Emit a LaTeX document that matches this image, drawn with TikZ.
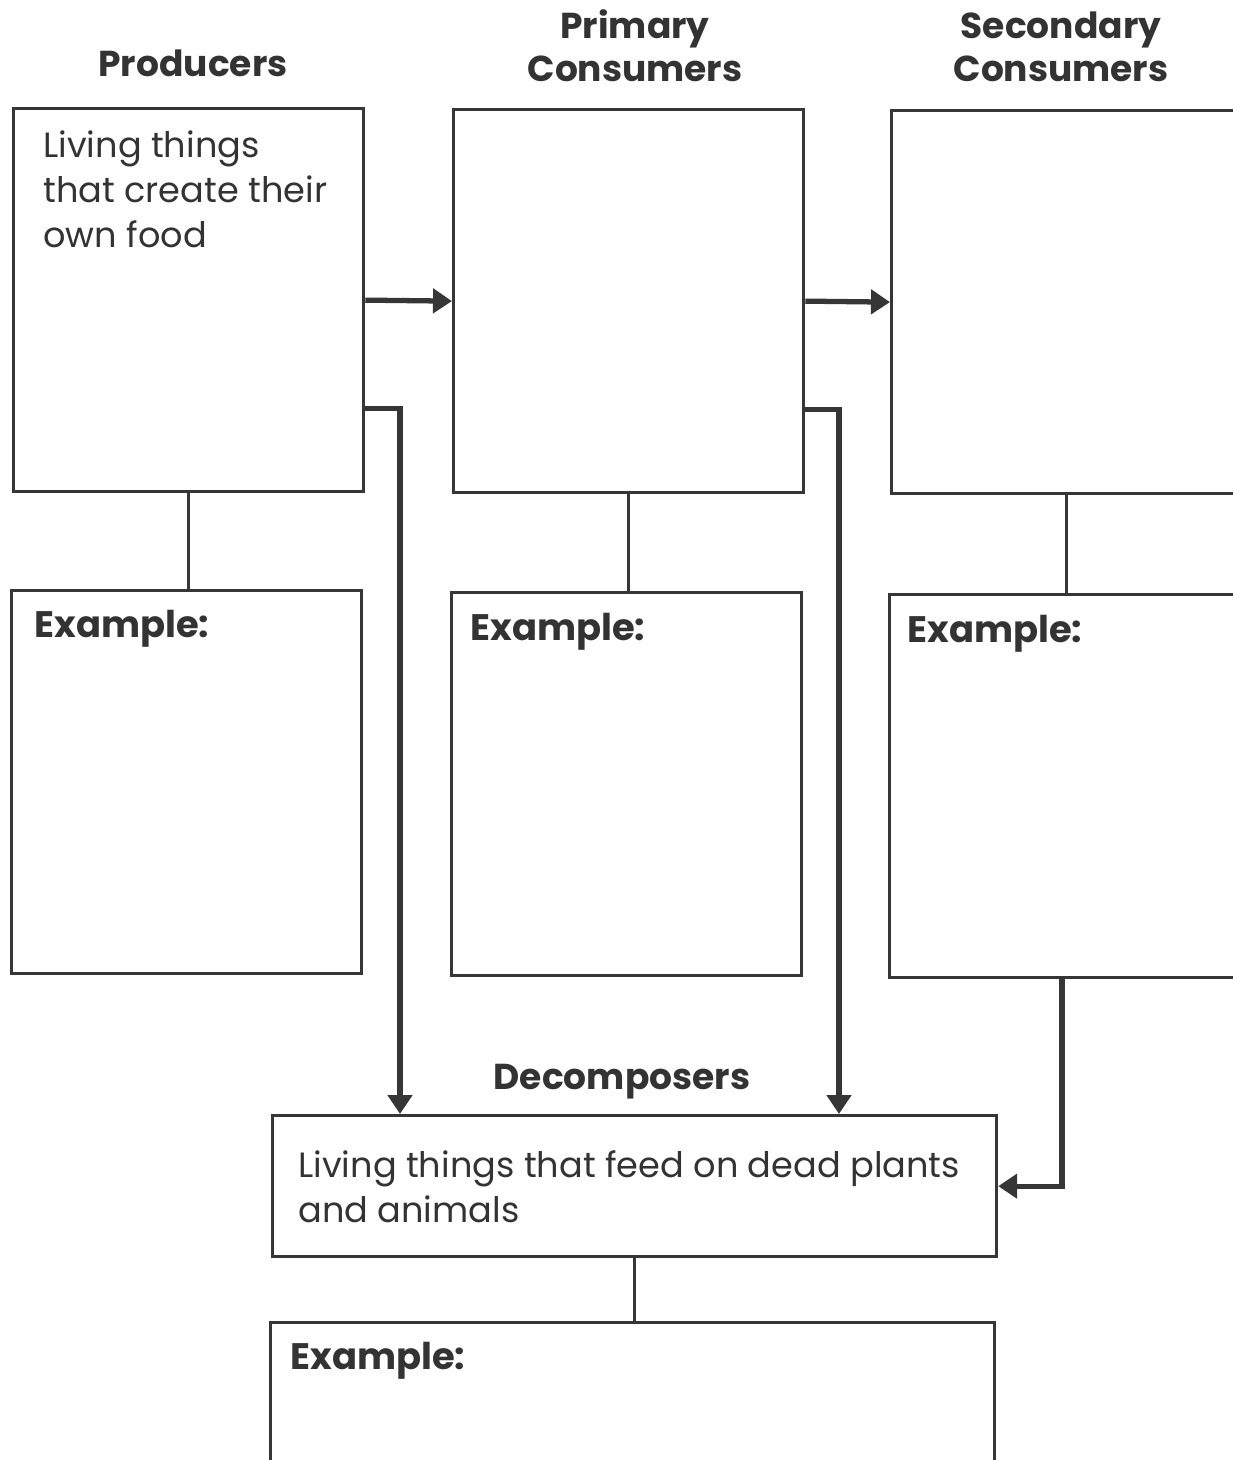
\documentclass[tikz,border=0pt]{standalone}
\usepackage{fontspec}
\setmainfont{Poppins}
\usetikzlibrary{arrows.meta,calc}
\definecolor{cink} {HTML}{363636}
\definecolor{ctext}{HTML}{333333}

\begin{document}
\begin{tikzpicture}[
  x=0.02cm, y=-0.02cm,
  arr/.style   = {-{Triangle[length=0.38cm, width=0.48cm]}, line width=3pt, color=cink},
  link/.style  = {line width=1.9pt, color=cink},
  box/.style   = {rectangle, draw=cink, line width=1.9pt, anchor=north west,
                  minimum width=7.0cm, minimum height=7.66cm, inner sep=0pt},
  wbox/.style  = {box, minimum width=14.48cm, minimum height=2.82cm},
  title/.style = {font=\fontsize{20.5}{24.5}\selectfont\bfseries, text=ctext, align=center},
  body/.style  = {font=\fontsize{20}{25.6}\selectfont, text=ctext, align=left,
                  anchor=north west, inner sep=0pt},
  exlab/.style = {font=\fontsize{21}{24}\selectfont\bfseries, text=ctext,
                  anchor=north west, inner sep=0pt}
]
\useasboundingbox (0,0) rectangle (1233,1460);

%% ── Titles ────────────────────────────────────────────────────────────────
\node[title] (tprod) at (193,  63) {Producers};
\node[title] (tprim) at (635,  46) {Primary\\Consumers};
\node[title] (tsec)  at (1061, 47) {Secondary\\Consumers};
\node[title] (tdec)  at (622,1082) {Decomposers};

%% ── Boxes ─────────────────────────────────────────────────────────────────
\node[box]  (prod)   at (12,  107) {};
\node[box]  (prim)   at (452, 108) {};
\node[box]  (sec)    at (890, 109) {};
\node[box]  (prodex) at (10,  589) {};
\node[box]  (primex) at (450, 591) {};
\node[box]  (secex)  at (888, 593) {};
\node[wbox] (dec)    at (271,1114) {};
\node[wbox] (decex)  at (269,1321) {};

%% ── Box texts ─────────────────────────────────────────────────────────────
\node[body] (dprod) at ($(prod.north west)+(31,23)$)
  {Living things\\that create their\\own food};
\node[body] (ddec)  at ($(dec.north west)+(27,36)$)
  {Living things that feed on dead plants\\and animals};

\node[exlab] (eprod) at ($(prodex.north west)+(24,21)$) {Example:};
\node[exlab] (eprim) at ($(primex.north west)+(20,22)$) {Example:};
\node[exlab] (esec)  at ($(secex.north west)+(19,22)$)  {Example:};
\node[exlab] (edec)  at ($(decex.north west)+(21,21)$)  {Example:};

%% ── Arrows ────────────────────────────────────────────────────────────────
% producers -> primary -> secondary
\draw[arr] (prod.east) -- (prim.west);
\draw[arr] (prim.east) -- (sec.west);

% producers / primary -> decomposers (right, then down)
\draw[arr] ($(prod.south east)+(0,-85)$) -| ($(dec.north west)+(129,0)$);
\draw[arr] ($(prim.south east)+(0,-85)$) -| ($(dec.north west)+(568,0)$);

% secondary example -> decomposers (down, then left)
\draw[arr] ($(secex.south west)+(174,0)$) |- (dec.east);

%% ── Links to examples ─────────────────────────────────────────────────────
\draw[link] (prod.south) -- (prodex.north -| prod.south);
\draw[link] (prim.south) -- (primex.north -| prim.south);
\draw[link] (sec.south)  -- (secex.north -| sec.south);
\draw[link] (dec.south)  -- (decex.north -| dec.south);

\end{tikzpicture}
\end{document}
